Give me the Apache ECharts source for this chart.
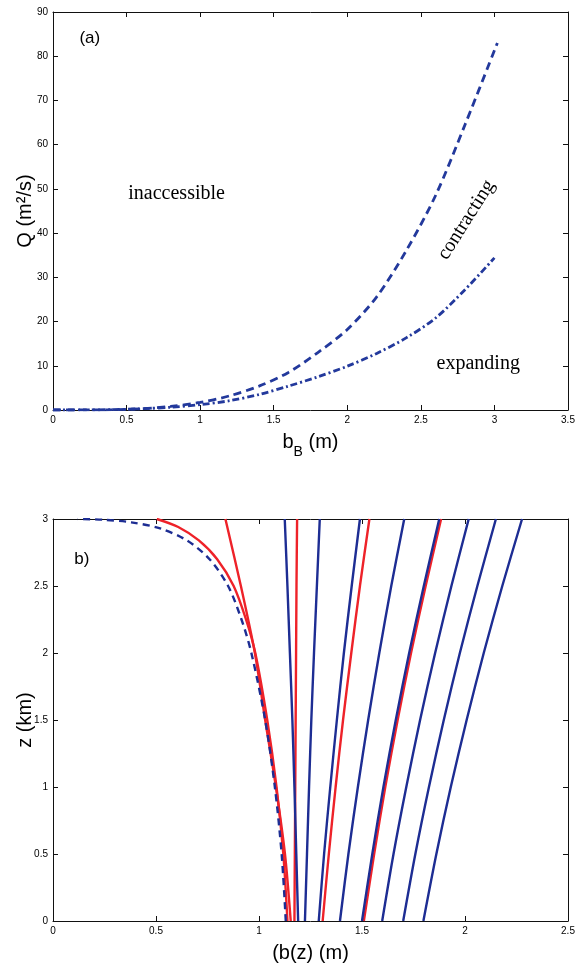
<!DOCTYPE html>
<html>
<head>
<meta charset="utf-8">
<script src="https://cdn.jsdelivr.net/npm/echarts@6/dist/echarts.min.js"></script>
<style>
html,body{margin:0;padding:0;background:#fff;}
#c{width:576px;height:966px;}
</style>
</head>
<body>
<div id="c"></div>
<script>
// ---------- Panel (a) data ----------
const bContract = [0, 0.2, 0.4, 0.6, 0.8, 1.0, 1.2, 1.4, 1.6, 1.8, 2.0, 2.2, 2.4, 2.6, 2.8, 3.02];
const qContract = [0, 0.01, 0.07, 0.3, 0.8, 1.7, 3.2, 5.4, 8.5, 13.0, 18.2, 25.6, 36.0, 48.5, 64.5, 83];
const bExpand = [0, 0.2, 0.4, 0.6, 0.8, 1.0, 1.2, 1.4, 1.6, 1.8, 2.0, 2.2, 2.4, 2.6, 2.8, 3.0];
const qExpand = [0, 0.01, 0.08, 0.28, 0.62, 1.2, 2.1, 3.5, 5.4, 7.5, 9.9, 12.8, 16.3, 20.8, 27.2, 34.4];

// ---------- Panel (b) data ----------
const zGrid = [0, 0.5, 1, 1.5, 2, 2.5, 3];
const blue1 = [1.19, 1.181, 1.172, 1.162, 1.150, 1.138, 1.125];
const blue2 = [1.223, 1.233, 1.243, 1.254, 1.267, 1.281, 1.295];
const blue3 = [1.29, 1.316, 1.346, 1.378, 1.412, 1.45, 1.49];
const blue4 = [1.393, 1.434, 1.48, 1.53, 1.584, 1.642, 1.705];
const blue5 = [1.5, 1.55, 1.604, 1.664, 1.729, 1.80, 1.875];
const blue6 = [1.598, 1.653, 1.715, 1.782, 1.855, 1.934, 2.018];
const blue7 = [1.70, 1.759, 1.825, 1.897, 1.975, 2.06, 2.15];
const blue8 = [1.798, 1.861, 1.931, 2.008, 2.091, 2.181, 2.277];
const red3 = [1.172, 1.174, 1.176, 1.178, 1.180, 1.182, 1.185];
const red4 = [1.309, 1.339, 1.372, 1.408, 1.448, 1.49, 1.536];
const red5 = [1.509, 1.559, 1.613, 1.673, 1.738, 1.809, 1.884];
const red1Z = [0, 0.5, 1.0, 1.5, 2.0, 2.25, 2.5, 2.7, 2.84, 2.94, 3.0];
const red1B = [1.138, 1.118, 1.085, 1.04, 0.982, 0.937, 0.877, 0.797, 0.708, 0.608, 0.504];
const red2Z = [0, 0.5, 1.0, 1.5, 2.0, 2.5, 3.0];
const red2B = [1.154, 1.126, 1.082, 1.03, 0.98, 0.912, 0.837];
const dashZ = [0, 0.5, 1.0, 1.5, 2.0, 2.25, 2.5, 2.7, 2.84, 2.93, 2.975, 2.995, 3.0];
const dashB = [1.13, 1.11, 1.077, 1.03, 0.963, 0.915, 0.85, 0.76, 0.65, 0.52, 0.38, 0.24, 0.12];

const SANS = 'Liberation Sans, Arial, Helvetica, sans-serif';
const SERIF = 'Liberation Serif, Times New Roman, serif';
const NAVY = '#23399c';
const BLUE = '#1d2d93';
const RED = '#ee2229';

function zip(xs, ys) { return xs.map((x, i) => [x, ys[i]]); }

function axis(opts, showLabel) {
  return Object.assign({
    type: 'value',
    axisLine: { show: true, onZero: false, lineStyle: { color: '#111', width: 1 } },
    axisTick: { show: true, inside: true, length: 5, lineStyle: { color: '#111', width: 1 } },
    axisLabel: { show: showLabel, color: '#000', fontSize: 10, fontFamily: SANS, margin: 5,
                 showMinLabel: true, showMaxLabel: true },
    splitLine: { show: false },
    nameTextStyle: { color: '#000', fontSize: 20, fontFamily: SANS }
  }, opts);
}

const chart = echarts.init(document.getElementById('c'));

const line = (data, color, type, width, xi, yi, smooth) => ({
  type: 'line', data: data, xAxisIndex: xi, yAxisIndex: yi,
  showSymbol: false, symbol: 'none', smooth: smooth, animation: false,
  lineStyle: { color: color, width: width, type: type }, z: 3
});

const bottomSeries = [];
[red3, red4, red5].forEach(r => bottomSeries.push(line(zip(r, zGrid), RED, 'solid', 2.4, 2, 2, 0.3)));
bottomSeries.push(line(zip(red1B, red1Z), RED, 'solid', 2.4, 2, 2, 0.3));
bottomSeries.push(line(zip(red2B, red2Z), RED, 'solid', 2.4, 2, 2, 0.3));
[blue1, blue2, blue3, blue4, blue5, blue6, blue7, blue8].forEach(b =>
  bottomSeries.push(line(zip(b, zGrid), BLUE, 'solid', 2.4, 2, 2, 0.3)));
bottomSeries.push(line(zip(dashB, dashZ), BLUE, [7, 5], 2.4, 2, 2, 0.3));

chart.setOption({
  animation: false,
  backgroundColor: '#fff',
  grid: [
    { left: 53, right: 8, top: 12, height: 398, outerBoundsMode: 'none' },
    { left: 53, right: 8, top: 519, height: 402, outerBoundsMode: 'none' }
  ],
  xAxis: [
    axis({ gridIndex: 0, position: 'bottom', min: 0, max: 3.5, interval: 0.5,
      name: '{n|b}{s|B}{n| (m)}', nameLocation: 'middle', nameGap: 22,
      nameTextStyle: { color: '#000', fontFamily: SANS, rich: {
        n: { fontSize: 20, fontFamily: SANS, color: '#000', lineHeight: 22, verticalAlign: 'top' },
        s: { fontSize: 14, fontFamily: SANS, color: '#000', lineHeight: 40 } } } }, true),
    axis({ gridIndex: 0, position: 'top', min: 0, max: 3.5, interval: 0.5 }, false),
    axis({ gridIndex: 1, position: 'bottom', min: 0, max: 2.5, interval: 0.5,
      name: '(b(z) (m)', nameLocation: 'middle', nameGap: 22 }, true),
    axis({ gridIndex: 1, position: 'top', min: 0, max: 2.5, interval: 0.5 }, false)
  ],
  yAxis: [
    axis({ gridIndex: 0, position: 'left', min: 0, max: 90, interval: 10,
      name: 'Q (m²/s)', nameLocation: 'middle', nameGap: 18, nameMoveOverlap: false }, true),
    axis({ gridIndex: 0, position: 'right', min: 0, max: 90, interval: 10 }, false),
    axis({ gridIndex: 1, position: 'left', min: 0, max: 3, interval: 0.5,
      name: 'z (km)', nameLocation: 'middle', nameGap: 18, nameMoveOverlap: false }, true),
    axis({ gridIndex: 1, position: 'right', min: 0, max: 3, interval: 0.5 }, false)
  ],
  series: [
    line(zip(bContract, qContract), NAVY, [8, 5], 2.8, 0, 0, 0.3),
    line(zip(bExpand, qExpand), NAVY, [7, 3, 2, 3], 2.8, 0, 0, 0.3)
  ].concat(bottomSeries)
});

function px(gi, pt) {
  return chart.convertToPixel({ xAxisIndex: gi * 2, yAxisIndex: gi * 2 }, pt);
}
function txt(gi, pt, text, font, size, rot) {
  const p = px(gi, pt);
  return {
    type: 'text', x: p[0], y: p[1], rotation: rot || 0, z: 10,
    style: { text: text, fill: '#000', font: size + 'px ' + font, align: 'center', verticalAlign: 'middle' }
  };
}
chart.setOption({
  graphic: [
    txt(0, [0.25, 84], '(a)', SANS, 17),
    txt(0, [0.84, 49], 'inaccessible', SERIF, 20),
    txt(0, [2.81, 43], 'contracting', SERIF, 20, 57.7 * Math.PI / 180),
    txt(0, [2.89, 10.4], 'expanding', SERIF, 20),
    txt(1, [0.14, 2.7], 'b)', SANS, 17)
  ]
});
</script>
</body>
</html>
